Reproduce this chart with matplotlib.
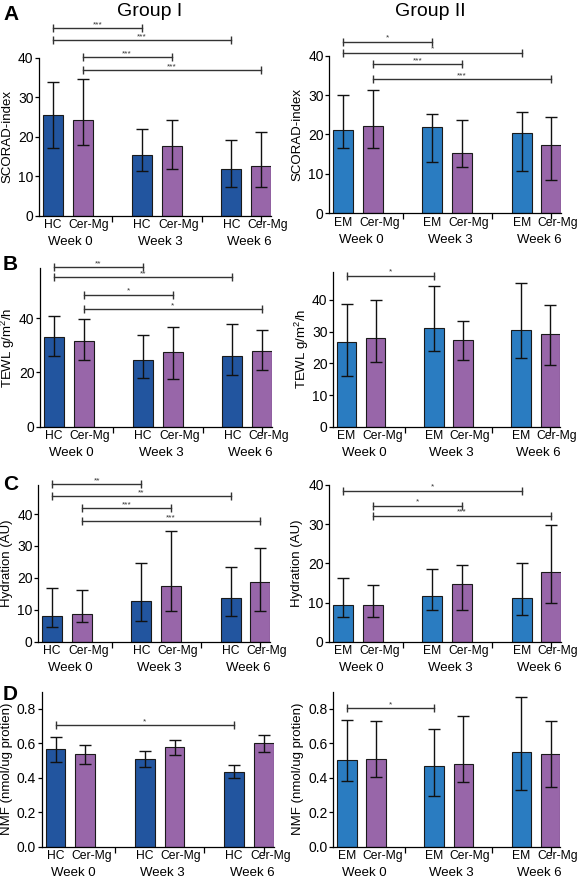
import matplotlib
matplotlib.use("Agg")
import matplotlib.pyplot as plt
from matplotlib.ticker import FormatStrFormatter

plt.rcParams['font.family'] = ['Liberation Sans', 'DejaVu Sans']
plt.rcParams['mathtext.default'] = 'regular'

# bar order: ctrl wk0, Cer-Mg wk0, ctrl wk3, Cer-Mg wk3, ctrl wk6, Cer-Mg wk6
weeks = ['Week 0', 'Week 3', 'Week 6']

# A - SCORAD
scorad1_mean = [25.5, 24.2, 15.3, 17.6, 11.7, 12.5]
scorad1_lo = [17.1, 17.8, 11.3, 11.7, 7.2, 7.2]
scorad1_hi = [33.9, 34.6, 22.0, 24.2, 19.2, 21.3]
scorad1_sig = [(0, 2, '***', 47.4), (0, 4, '***', 44.5), (1, 3, '***', 40.1), (1, 5, '***', 36.9)]

scorad2_mean = [21.2, 22.2, 21.8, 15.2, 20.3, 17.3]
scorad2_lo = [16.7, 16.7, 13.1, 11.7, 10.7, 8.5]
scorad2_hi = [29.9, 31.4, 25.3, 23.8, 25.8, 24.4]
scorad2_sig = [(0, 2, '*', 43.6), (0, 4, '*', 40.8), (1, 3, '***', 37.9), (1, 5, '***', 34.1)]

# B - TEWL
tewl1_mean = [33.2, 31.6, 24.7, 27.7, 26.1, 28.0]
tewl1_lo = [26.2, 24.5, 17.9, 17.5, 19.2, 20.9]
tewl1_hi = [40.7, 39.7, 33.7, 36.8, 37.8, 35.8]
tewl1_sig = [(0, 2, '**', 58.8), (0, 4, '**', 55.1), (1, 3, '*', 48.6), (1, 5, '*', 43.3)]

tewl2_mean = [26.7, 27.9, 31.2, 27.2, 30.4, 29.1]
tewl2_lo = [15.9, 20.3, 23.9, 21.1, 21.6, 19.4]
tewl2_hi = [38.6, 40.0, 44.5, 33.5, 45.2, 38.3]
tewl2_sig = [(0, 2, '*', 47.7)]

# C - hydration
hyd1_mean = [8.2, 8.6, 12.6, 17.5, 13.6, 18.6]
hyd1_lo = [4.7, 6.3, 6.4, 9.7, 8.2, 9.6]
hyd1_hi = [16.9, 16.3, 24.6, 34.8, 23.5, 29.4]
hyd1_sig = [(0, 2, '**', 49.3), (0, 4, '**', 45.5), (1, 3, '***', 41.8), (1, 5, '***', 37.8)]

hyd2_mean = [9.4, 9.4, 11.6, 14.7, 11.1, 17.9]
hyd2_lo = [6.2, 6.2, 8.1, 8.2, 6.7, 10.0]
hyd2_hi = [16.3, 14.6, 18.6, 19.7, 20.0, 29.7]
hyd2_sig = [(0, 4, '*', 38.5), (1, 3, '*', 34.7), (1, 5, '***', 32.2)]

# D - NMF
nmf1_mean = [0.565, 0.536, 0.509, 0.577, 0.435, 0.600]
nmf1_lo = [0.493, 0.478, 0.464, 0.534, 0.398, 0.548]
nmf1_hi = [0.637, 0.592, 0.557, 0.621, 0.472, 0.649]
nmf1_sig = [(0, 4, '*', 0.705)]

nmf2_mean = [0.503, 0.509, 0.466, 0.483, 0.551, 0.538]
nmf2_lo = [0.381, 0.402, 0.293, 0.375, 0.328, 0.348]
nmf2_hi = [0.736, 0.728, 0.685, 0.757, 0.868, 0.730]
nmf2_sig = [(0, 2, '*', 0.804)]

W, H = 580, 885
fig = plt.figure(figsize=(W / 100, H / 100), dpi=100)

xpos = [0, 1.5, 4.5, 6.0, 9.0, 10.5]
purple = '#9866a9'


def px_axes(left, top, bottom, width=232):
    ax = fig.add_axes([left / W, (H - bottom) / H, width / W, (bottom - top) / H])
    ax.px_left = left
    ax.px_width = width
    return ax


def panel(ax, mean, lo, hi, sig, ctrl, ctrl_color, ylabel, label_x, ytop, yticks, fmt=None):
    colors = [ctrl_color, purple] * 3
    yerr = [[m - l for m, l in zip(mean, lo)], [h - m for m, h in zip(mean, hi)]]
    ax.bar(xpos, mean, width=1.0, color=colors, edgecolor='#1a1a1a', linewidth=0.8, zorder=2)
    ax.errorbar(xpos, mean, yerr=yerr, fmt='none', ecolor='#111111', elinewidth=1.0,
                capsize=4, capthick=1.0, zorder=3)
    for i, j, star, y in sig:
        ax.plot([xpos[i], xpos[j]], [y, y], color='#333333', lw=1.0, clip_on=False,
                marker='|', markersize=6, markeredgewidth=1.0, zorder=4)
        ax.text((xpos[i] + xpos[j]) / 2, y, star, ha='center', va='bottom',
                fontsize=6, color='#333333', clip_on=False)
    ax.set_xlim(-0.7, 11.0)
    ax.set_ylim(0, ytop)
    ax.set_yticks(yticks)
    if fmt:
        ax.yaxis.set_major_formatter(FormatStrFormatter(fmt))
    ax.set_xticks([])
    ax.set_xticks([3.0, 7.5, 10.5], minor=True)
    ax.tick_params(axis='x', which='minor', length=4, width=0.9, direction='out',
                   labelbottom=False)
    ax.tick_params(axis='y', labelsize=10, length=3, width=0.9, pad=1)
    ax.set_ylabel(ylabel, fontsize=9.5, va='center')
    ax.yaxis.set_label_coords((label_x - ax.px_left) / ax.px_width, 0.5)
    for s in ['top', 'right']:
        ax.spines[s].set_visible(False)
    for s in ['left', 'bottom']:
        ax.spines[s].set_linewidth(0.9)
    # bar labels: control centred, Cer-Mg starting near the bar's left edge
    for k in range(3):
        ax.annotate(ctrl, xy=(xpos[2 * k], 0), xycoords=('data', 'axes fraction'),
                    xytext=(0, -7), textcoords='offset points', ha='center', va='center',
                    fontsize=8.7)
        ax.annotate('Cer-Mg', xy=(xpos[2 * k + 1] - 0.7, 0), xycoords=('data', 'axes fraction'),
                    xytext=(0, -7), textcoords='offset points', ha='left', va='center',
                    fontsize=8.7)
        ax.annotate(weeks[k], xy=(xpos[2 * k] + 0.9, 0), xycoords=('data', 'axes fraction'),
                    xytext=(0, -19), textcoords='offset points', ha='center', va='center',
                    fontsize=9.5)


blue1 = '#22559f'
blue2 = '#2a7cc1'

ax = px_axes(39, 57.7, 215.7)
panel(ax, scorad1_mean, scorad1_lo, scorad1_hi, scorad1_sig, 'HC', blue1,
      'SCORAD-index', 7, 40, [0, 10, 20, 30, 40])
ax = px_axes(329.3, 55.7, 213.3)
panel(ax, scorad2_mean, scorad2_lo, scorad2_hi, scorad2_sig, 'EM', blue2,
      'SCORAD-index', 297, 40, [0, 10, 20, 30, 40])

ax = px_axes(40, 268.3, 426.7)
panel(ax, tewl1_mean, tewl1_lo, tewl1_hi, tewl1_sig, 'HC', blue1,
      'TEWL g/m$^{2}$/h', 8, 58.4, [0, 20, 40])
ax = px_axes(333, 271.7, 426.7, width=227)
panel(ax, tewl2_mean, tewl2_lo, tewl2_hi, tewl2_sig, 'EM', blue2,
      'TEWL g/m$^{2}$/h', 302, 48.9, [0, 10, 20, 30, 40])

ax = px_axes(38.3, 485, 641.7)
panel(ax, hyd1_mean, hyd1_lo, hyd1_hi, hyd1_sig, 'HC', blue1,
      'Hydration (AU)', 7, 49.1, [0, 10, 20, 30, 40])
ax = px_axes(329.3, 485, 641.7)
panel(ax, hyd2_mean, hyd2_lo, hyd2_hi, hyd2_sig, 'EM', blue2,
      'Hydration (AU)', 297, 40, [0, 10, 20, 30, 40])

ax = px_axes(41.7, 691.7, 846.7)
panel(ax, nmf1_mean, nmf1_lo, nmf1_hi, nmf1_sig, 'HC', blue1,
      'NMF (nmol/ug protien)', 7.5, 0.9, [0, 0.2, 0.4, 0.6, 0.8], '%.1f')
ax = px_axes(333.3, 691.7, 846.7, width=227)
panel(ax, nmf2_mean, nmf2_lo, nmf2_hi, nmf2_sig, 'EM', blue2,
      'NMF (nmol/ug protien)', 298, 0.9, [0, 0.2, 0.4, 0.6, 0.8], '%.1f')

# titles and panel letters
fig.text(150 / W, 1 - 11 / H, 'Group I', ha='center', va='center', fontsize=14)
fig.text(430 / W, 1 - 11 / H, 'Group II', ha='center', va='center', fontsize=14)
for lab, y in [('A', 14), ('B', 264), ('C', 485), ('D', 694)]:
    fig.text(3 / W, 1 - y / H, lab, ha='left', va='center', fontsize=15, fontweight='bold')

plt.savefig('out.png', dpi=100)
plt.close()
